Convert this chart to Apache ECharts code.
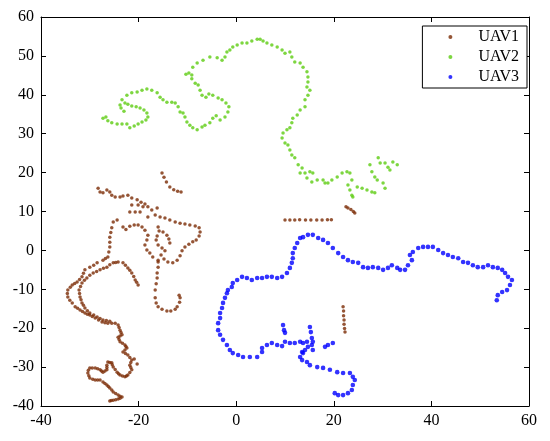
<!DOCTYPE html>
<html>
<head>
<meta charset="utf-8">
<script src="https://cdn.jsdelivr.net/npm/echarts@6/dist/echarts.min.js"></script>
<style>
  html, body { margin: 0; padding: 0; background: #fff; }
  #chart { width: 550px; height: 441px; }
</style>
</head>
<body>
<div id="chart"></div>
<script>
// series names
var names = ['UAV1', 'UAV2', 'UAV3'];

// UAV1 positions [x, y]
var uav1 = [
  // short diagonal top
  [-15.2, 19.9], [-14.8, 18.8], [-14.3, 17.6], [-13.6, 16.3], [-12.8, 15.6], [-12.0, 15.2], [-11.3, 15.0],
  // hook and outer loop
  [-28.3, 16.0], [-27.9, 15.0], [-27.3, 14.8], [-26.5, 15.5], [-25.9, 15.0], [-25.5, 14.2], [-24.8, 13.7],
  [-23.8, 13.7], [-23.2, 14.0], [-22.2, 14.2], [-21.4, 13.5], [-20.3, 13.0], [-19.5, 12.4], [-18.7, 11.9],
  [-21.4, 11.7], [-20.1, 11.7], [-19.1, 11.2], [-18.1, 11.2], [-21.8, 9.9], [-20.7, 9.9], [-19.7, 9.9],
  [-18.1, 8.6], [-16.6, 9.1], [-15.6, 8.6], [-16.2, 10.9], [-17.3, 10.4],
  [-14.6, 8.3], [-13.6, 7.8], [-12.5, 7.3], [-11.5, 7.0], [-10.5, 6.8], [-9.5, 6.5], [-8.4, 6.3], [-7.6, 5.8],
  [-7.4, 4.7], [-7.6, 3.7], [-8.2, 2.7], [-8.9, 2.2], [-9.7, 1.6], [-10.5, 0.9], [-11.1, -0.1], [-11.5, -1.4],
  [-12.1, -2.5], [-13.0, -3.2], [-14.0, -3.0], [-14.8, -2.2], [-15.4, -1.2],
  // inner strands
  [-23.2, 6.0], [-22.6, 5.4], [-21.8, 6.2], [-20.9, 6.5], [-20.1, 6.5], [-19.3, 6.0], [-18.7, 5.2], [-18.1, 3.9],
  [-18.3, 2.7], [-18.7, 1.4], [-18.3, 0.1], [-17.7, -0.7], [-17.1, -1.7], [-16.0, -2.5],
  [-16.0, 6.0], [-15.8, 5.0], [-16.2, 3.7], [-16.4, 2.7], [-16.0, 1.4], [-15.2, 0.6], [-14.6, -0.1],
  [-15.0, 4.7], [-14.2, 3.9], [-13.8, 2.9], [-13.6, 1.9],
  // strand down to the U
  [-16.0, -3.0], [-16.0, -4.3], [-16.2, -5.8], [-16.2, -7.1],
  [-16.4, -8.6], [-16.6, -10.2], [-16.6, -12.2], [-16.4, -13.5], [-16.0, -14.5], [-15.2, -15.1], [-14.2, -15.6],
  [-13.4, -15.6], [-12.5, -15.1], [-12.1, -14.5], [-11.6, -13.3], [-11.5, -12.2], [-11.7, -11.5],
  // long left arc
  [-24.4, 7.8], [-25.2, 7.3], [-25.5, 5.8], [-25.7, 4.6], [-25.9, 3.4], [-25.9, 2.1], [-25.9, 0.9], [-26.1, -0.4],
  [-26.3, -1.7], [-26.8, -2.1], [-27.3, -2.5], [-28.5, -3.2], [-29.2, -3.8], [-30.0, -4.3], [-31.0, -5.0],
  [-31.3, -5.9], [-31.6, -6.8], [-32.1, -7.5], [-32.6, -8.1], [-33.1, -8.5], [-33.6, -8.9], [-34.0, -9.5],
  [-34.5, -10.2], [-34.6, -11.1], [-34.5, -12.0], [-34.1, -12.8], [-33.6, -13.5], [-33.0, -14.5], [-32.5, -14.9],
  [-32.0, -15.3], [-31.5, -15.7], [-31.0, -16.1], [-30.5, -16.4], [-30.0, -16.6], [-29.5, -17.0], [-28.9, -17.4],
  [-28.2, -17.9], [-27.5, -18.4], [-26.9, -18.6], [-26.3, -18.7], [-25.5, -18.7], [-24.8, -18.7], [-24.2, -19.2],
  [-24.0, -19.8], [-23.8, -20.5], [-23.6, -21.1], [-23.4, -21.7], [-23.8, -22.0], [-24.2, -22.3], [-24.0, -22.9],
  [-23.8, -23.5], [-23.3, -23.9], [-22.8, -24.3], [-22.6, -24.7], [-22.4, -25.1], [-22.8, -25.6], [-23.2, -26.1],
  [-22.7, -26.5], [-22.2, -26.9], [-21.8, -27.5], [-21.4, -28.2], [-21.6, -28.8], [-21.8, -29.5], [-21.6, -30.1],
  [-21.4, -30.7], [-21.8, -31.4], [-22.2, -32.0], [-22.5, -32.3], [-22.8, -32.5], [-23.3, -32.3], [-23.8, -32.0],
  [-24.1, -31.7], [-24.4, -31.3], [-24.8, -30.6], [-25.2, -30.0], [-25.4, -29.4], [-25.5, -28.9], [-25.9, -28.8],
  [-26.3, -28.7], [-26.5, -29.5], [-26.5, -30.1], [-26.5, -30.7], [-26.9, -31.0], [-27.3, -31.3], [-27.6, -31.0],
  [-27.9, -30.7], [-28.4, -30.4], [-28.9, -30.2], [-29.5, -30.2], [-30.0, -30.2], [-30.3, -30.8], [-30.4, -31.5],
  [-30.2, -32.2], [-30.0, -32.8], [-29.4, -33.1], [-28.9, -33.3], [-28.4, -33.3], [-27.9, -33.3], [-27.3, -33.8],
  [-26.9, -34.2], [-26.5, -34.6], [-26.2, -35.0], [-25.9, -35.4], [-25.5, -35.9], [-25.2, -36.4], [-24.7, -36.8],
  [-24.2, -37.2], [-23.8, -37.5], [-23.4, -37.7], [-23.8, -38.0], [-24.2, -38.2], [-24.7, -38.4], [-25.2, -38.5],
  [-25.6, -38.6], [-25.9, -38.7], [-20.9, -27.9], [-20.3, -29.2],
  // second left strand and branch
  [-24.2, -3.0], [-24.7, -3.1], [-25.2, -3.2], [-25.9, -3.7], [-26.5, -4.3], [-27.2, -4.6], [-27.9, -5.0],
  [-28.6, -5.4], [-29.3, -5.8], [-30.0, -6.4], [-30.6, -7.1], [-31.1, -7.7], [-31.6, -8.4], [-31.9, -9.3],
  [-32.2, -10.2], [-32.1, -11.1], [-32.0, -12.0], [-31.8, -12.7], [-31.6, -13.5], [-31.3, -14.1], [-31.0, -14.8],
  [-30.5, -15.5], [-30.0, -16.1], [-29.2, -16.6], [-28.5, -17.1], [-27.9, -17.5], [-27.3, -17.9], [-26.6, -18.0],
  [-25.9, -18.2], [-23.2, -3.2], [-22.7, -3.8], [-22.2, -4.5], [-21.8, -5.1], [-21.4, -5.8], [-21.0, -6.7],
  [-20.7, -7.6], [-20.4, -8.2], [-20.1, -8.9],
  // isolated pieces on the right
  [10.0, 7.8], [11.0, 7.8], [12.0, 7.8], [13.0, 7.9], [14.2, 7.8], [15.3, 7.8], [16.5, 7.8], [17.6, 7.8],
  [18.7, 7.9], [19.5, 7.9],
  [22.5, 11.2], [22.9, 10.9], [23.5, 10.5], [24.0, 10.0], [24.3, 9.6],
  [21.9, -14.5], [22.0, -15.6], [22.0, -16.8], [22.1, -17.9], [22.1, -19.0], [22.2, -20.1], [22.3, -21.0]
];

// UAV2 positions [x, y]
var uav2 = [
  [-27.3, 34.0], [-26.7, 34.3], [-26.3, 33.3], [-25.5, 32.8], [-24.4, 32.5], [-23.4, 32.5], [-22.4, 32.5],
  [-21.8, 31.5], [-20.9, 32.0], [-20.1, 32.5], [-19.3, 33.0], [-18.5, 33.5], [-18.1, 34.3], [-18.3, 35.3],
  [-18.9, 36.1], [-19.7, 36.6], [-20.5, 36.9], [-21.4, 37.1], [-22.2, 37.6], [-22.8, 37.9], [-23.6, 36.6],
  [-23.0, 35.8],
  [-23.8, 37.4], [-23.4, 38.7], [-22.4, 39.9], [-21.4, 40.5], [-20.3, 40.7], [-19.3, 41.2], [-18.3, 41.5],
  [-17.3, 41.2], [-16.2, 40.5], [-15.6, 39.4], [-15.0, 38.7], [-14.2, 38.1], [-13.2, 38.1], [-12.5, 37.9],
  [-11.9, 36.9], [-11.5, 35.6], [-10.9, 35.3], [-10.5, 34.3], [-10.1, 33.0], [-9.5, 32.2], [-8.9, 31.5],
  [-8.0, 31.0], [-7.0, 31.7], [-6.4, 32.2], [-5.4, 32.8], [-4.8, 34.0], [-4.1, 34.6], [-3.3, 33.5], [-2.3, 34.3],
  [-1.7, 35.6], [-1.5, 36.9], [-2.1, 37.9], [-2.9, 38.7], [-3.7, 39.2], [-4.8, 39.9], [-5.6, 40.2], [-6.2, 39.4],
  [-7.0, 39.9], [-7.4, 41.2], [-7.8, 42.5], [-8.4, 43.0], [-9.1, 44.1], [-9.1, 45.1], [-9.7, 45.6], [-10.3, 45.3],
  [-8.9, 47.1], [-8.0, 48.2], [-6.8, 48.9], [-5.4, 49.7], [-3.9, 49.5], [-2.9, 48.9], [-2.3, 49.7], [-1.9, 51.0],
  [-1.3, 51.5], [-0.7, 52.3], [0.2, 52.8], [1.2, 53.3], [2.2, 53.3], [3.2, 53.8], [4.3, 54.3], [4.9, 54.3],
  [5.5, 53.8], [6.3, 53.3], [7.3, 52.8], [8.4, 52.3], [9.4, 51.5], [10.0, 50.7], [11.0, 51.0], [11.4, 49.7],
  [12.0, 48.4], [13.1, 48.2], [13.7, 47.1], [14.5, 45.9], [14.7, 44.6], [14.7, 43.3], [14.5, 42.0], [15.1, 41.2],
  [14.7, 39.9], [14.1, 38.7], [14.1, 36.9], [13.1, 36.1], [12.5, 34.8], [11.6, 34.0], [11.4, 32.8], [11.0, 31.5],
  [10.4, 31.0],
  [9.6, 30.2], [9.4, 28.9], [10.0, 27.6], [10.6, 27.1], [11.0, 25.8], [11.4, 24.5], [12.0, 23.8], [12.7, 22.0],
  [13.5, 21.2], [13.1, 19.9], [14.1, 19.9], [15.1, 20.2], [15.7, 19.9], [14.5, 18.6], [15.5, 17.6], [16.6, 18.1],
  [17.8, 18.1], [18.2, 17.3], [18.8, 17.3], [19.6, 18.1], [20.7, 18.9], [21.7, 19.9], [22.7, 20.2], [23.3, 19.9],
  [23.7, 18.1], [22.9, 16.8], [23.3, 15.5], [23.7, 14.2], [23.9, 13.7], [24.8, 16.3], [25.8, 16.0], [26.8, 15.5],
  [27.8, 15.0], [28.4, 14.8], [27.4, 22.0], [27.8, 20.2], [28.4, 18.9], [28.9, 18.1], [29.1, 23.8], [29.5, 22.5],
  [30.5, 22.5], [31.1, 21.4], [32.1, 22.7], [33.0, 22.0], [31.5, 20.7], [30.1, 17.3], [30.5, 16.0]
];

// UAV3 positions [x, y]
var uav3 = [
  [-0.7, -26.4], [-1.3, -25.6], [-1.9, -24.3], [-2.7, -23.0], [-3.3, -21.7], [-3.7, -20.5], [-3.7, -18.7],
  [-3.3, -17.4], [-3.3, -16.1], [-2.9, -14.8], [-2.7, -13.5], [-2.3, -12.2], [-1.9, -11.0], [-1.7, -10.2],
  [-0.9, -9.4], [-0.7, -8.4], [0.2, -7.6], [1.2, -6.8], [2.2, -7.1], [3.2, -7.6], [4.3, -7.1], [5.3, -7.1],
  [6.3, -6.8], [7.3, -6.8], [8.4, -7.1], [9.4, -6.8], [10.4, -5.8], [11.0, -4.5], [11.4, -3.2], [11.6, -2.0],
  [11.6, -0.7], [12.0, 0.6], [12.5, 1.9], [13.1, 3.2], [13.7, 3.4], [14.7, 4.0], [15.7, 4.0], [16.8, 3.2],
  [17.8, 2.7], [18.8, 1.9], [19.8, 0.6], [20.9, -0.7], [21.9, -1.7], [22.9, -2.5], [23.9, -3.0], [25.0, -3.2],
  [26.0, -4.3], [27.0, -4.5], [28.0, -4.3], [29.1, -4.5], [30.1, -5.0], [31.1, -4.5], [31.9, -3.8], [33.0, -4.5],
  [33.6, -5.0], [34.6, -5.0], [35.2, -3.8], [36.0, -2.5], [35.6, -1.2], [36.2, -0.4], [37.3, 0.6], [38.3, 0.9],
  [39.3, 0.9], [40.3, 0.9], [41.4, 0.1], [42.4, -0.7], [43.4, -1.2], [44.4, -1.7], [45.5, -2.0], [46.5, -3.0],
  [47.5, -3.2], [48.5, -3.8], [49.5, -4.3], [50.6, -4.3], [51.6, -3.8], [52.6, -4.3], [53.6, -4.5], [54.5, -5.0],
  [55.1, -5.8], [55.7, -6.8], [56.5, -7.6], [56.1, -8.9], [55.5, -10.2], [54.5, -10.7], [53.6, -11.5],
  [53.4, -12.8],
  [0.4, -26.9], [1.4, -27.4], [2.8, -27.4], [4.3, -27.4], [5.3, -26.1], [5.3, -25.1], [6.3, -24.3], [7.3, -23.8],
  [8.4, -24.3], [9.4, -24.6], [10.0, -23.5], [11.0, -23.8], [12.0, -23.8], [13.1, -23.5], [13.7, -23.8],
  [14.5, -23.5], [14.7, -24.8], [14.1, -25.6], [13.5, -26.1],
  [13.7, -26.4], [13.1, -27.4], [13.5, -28.2], [14.5, -28.7], [15.1, -29.5], [16.6, -30.0], [17.8, -30.2],
  [19.2, -30.7], [20.7, -31.3], [21.9, -31.5], [23.3, -31.5], [23.9, -32.5], [24.3, -33.3], [23.9, -34.6],
  [23.7, -35.9], [22.9, -36.7], [21.9, -37.2], [20.9, -37.2], [20.2, -36.7],
  [9.6, -19.2], [9.8, -20.5], [10.0, -21.2], [15.1, -19.7], [15.3, -21.0], [15.5, -22.5], [15.7, -23.5],
  [15.5, -24.3], [15.7, -25.6], [18.2, -24.8], [18.8, -24.3], [19.8, -23.8]
];

var colors = ['#7a2a04', '#5ccc10', '#0000ff'];
var sizes = [3.5, 3.5, 4.6];
var serif = "'Liberation Serif', 'Times New Roman', serif";

var chart = echarts.init(document.getElementById('chart'));

function boxAxis(min, max, interval, position, showLabel) {
  return {
    type: 'value',
    min: min,
    max: max,
    interval: interval,
    position: position,
    axisLine: { show: true, onZero: false, lineStyle: { color: '#000', width: 1 } },
    axisTick: { show: true, inside: true, length: 5, lineStyle: { color: '#000' } },
    axisLabel: { show: showLabel, color: '#000', fontSize: 16, fontFamily: serif, margin: 7 },
    splitLine: { show: false }
  };
}

var option = {
  animation: false,
  backgroundColor: '#fff',
  grid: { left: 41, right: 21, top: 17, bottom: 35, containLabel: false },
  legend: {
    data: names,
    orient: 'vertical',
    right: 23,
    top: 26,
    width: 104,
    padding: [3, 8, 3, 26],
    itemGap: 4,
    itemWidth: 4,
    itemHeight: 4,
    icon: 'circle',
    borderColor: '#000',
    borderWidth: 1,
    backgroundColor: '#fff',
    textStyle: { color: '#000', fontSize: 16, fontFamily: serif, lineHeight: 15, padding: [0, 0, 0, 21] }
  },
  xAxis: [boxAxis(-40, 60, 20, 'bottom', true), boxAxis(-40, 60, 20, 'top', false)],
  yAxis: [boxAxis(-40, 60, 10, 'left', true), boxAxis(-40, 60, 10, 'right', false)],
  series: [uav1, uav2, uav3].map(function (d, i) {
    return {
      name: names[i],
      type: 'scatter',
      data: d,
      symbolSize: sizes[i],
      itemStyle: { color: colors[i] }
    };
  })
};

chart.setOption(option);
</script>
</body>
</html>
